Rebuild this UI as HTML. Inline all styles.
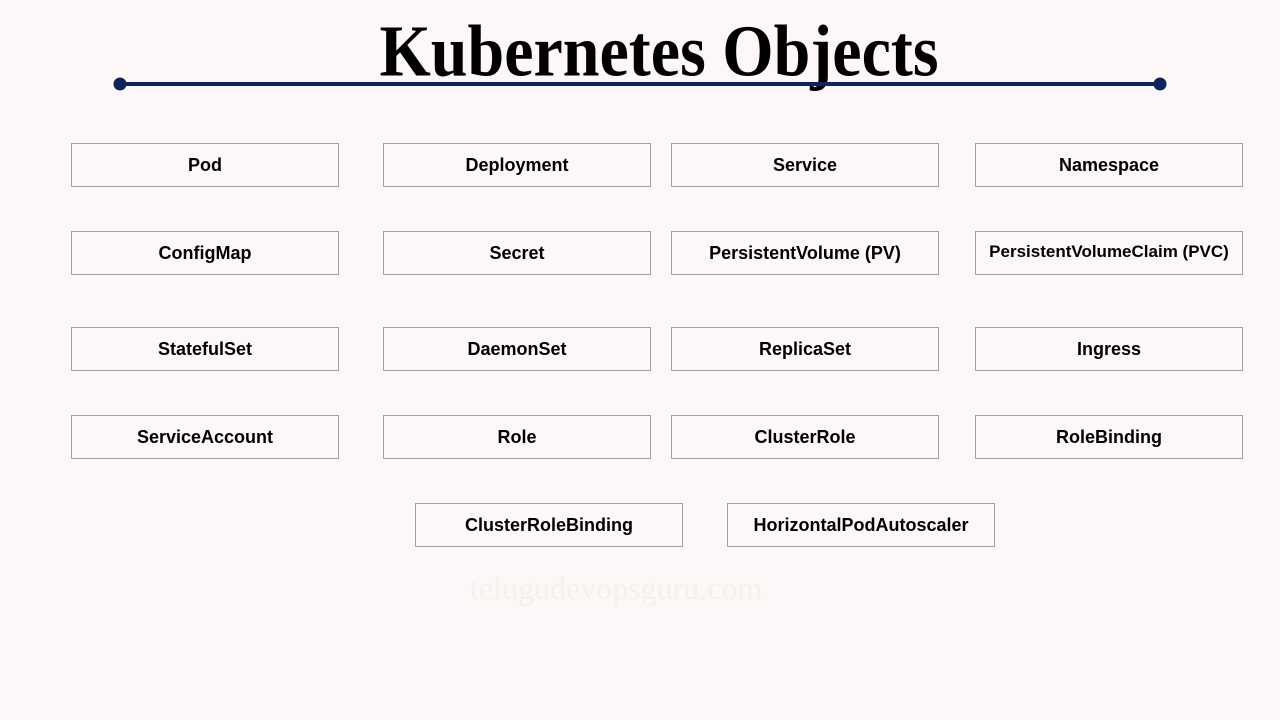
<!DOCTYPE html>
<html><head><style>
body{margin:0;width:1280px;height:720px;background:#fdf8f7;position:relative;overflow:hidden;font-family:"Liberation Sans",sans-serif}
.t{position:absolute;left:0;width:1318px;top:11px;text-align:center;font-family:"Liberation Serif",serif;font-weight:bold;font-size:66px;line-height:86px;color:#000;transform:scaleY(1.1);transform-origin:50% 60px}
.b{position:absolute;width:266px;height:42px;border:1px solid #a0a0a0;display:flex;align-items:center;justify-content:center;font-weight:bold;font-size:18px;color:#000}
.w{position:absolute;left:470px;top:570px;font-family:"Liberation Serif",serif;font-size:32px;color:#f5efee}
</style></head><body>
<div class="t">Kubernetes Objects</div>
<svg style="position:absolute;left:0;top:0" width="1280" height="120"><line x1="120" y1="84" x2="1160" y2="84" stroke="#0b2560" stroke-width="4"/><circle cx="120" cy="84" r="6.5" fill="#0b2560"/><circle cx="1160" cy="84" r="6.5" fill="#0b2560"/></svg>
<div class="b" style="left:71px;top:143px">Pod</div>
<div class="b" style="left:383px;top:143px">Deployment</div>
<div class="b" style="left:671px;top:143px">Service</div>
<div class="b" style="left:975px;top:143px">Namespace</div>
<div class="b" style="left:71px;top:231px">ConfigMap</div>
<div class="b" style="left:383px;top:231px">Secret</div>
<div class="b" style="left:671px;top:231px">PersistentVolume (PV)</div>
<div class="b" style="left:975px;top:231px;font-size:17px;padding-bottom:2px;height:40px">PersistentVolumeClaim (PVC)</div>
<div class="b" style="left:71px;top:327px">StatefulSet</div>
<div class="b" style="left:383px;top:327px">DaemonSet</div>
<div class="b" style="left:671px;top:327px">ReplicaSet</div>
<div class="b" style="left:975px;top:327px">Ingress</div>
<div class="b" style="left:71px;top:415px">ServiceAccount</div>
<div class="b" style="left:383px;top:415px">Role</div>
<div class="b" style="left:671px;top:415px">ClusterRole</div>
<div class="b" style="left:975px;top:415px">RoleBinding</div>
<div class="b" style="left:415px;top:503px">ClusterRoleBinding</div>
<div class="b" style="left:727px;top:503px">HorizontalPodAutoscaler</div>
<div class="w">telugudevopsguru.com</div>
</body></html>
